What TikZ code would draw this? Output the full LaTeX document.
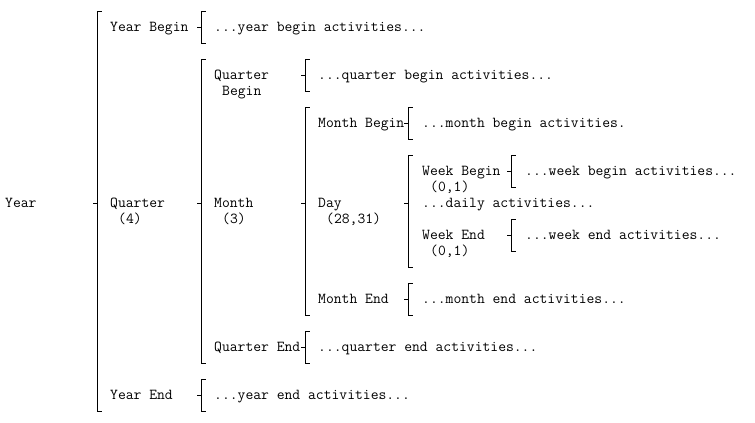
\documentclass[tikz,border=0pt]{standalone}
\usepackage{fontspec}
\usetikzlibrary{positioning}

\tikzset{
  lbl/.style={anchor=base west, inner sep=0pt, font=\ttfamily\fontsize{15.2bp}{16bp}\selectfont},
  brk/.style={line width=1bp, line cap=rect}
}
% bracket: x, top, bottom, level of the parent
\newcommand{\wobrk}[4]{%
  \draw[brk] (#1+4,#2) -- (#1,#2) -- (#1,#3) -- (#1+4,#3);
  \draw[brk] (#1-4,#4) -- (#1,#4);
}

\begin{document}
\begin{tikzpicture}[x=1bp, y=-1bp]
  \useasboundingbox (0,0) rectangle (755,422);

  % labels (base line = level + 4.5)
  \node[lbl] (year) at (5,207.5) {Year};
  \node[lbl] (yb) at (110,31.5) {Year Begin};
  \node[lbl] (qtr) at (110,207.5) {Quarter};
  \node[lbl] (qtrn) at (118,223.5) {(4)};
  \node[lbl] (ye) at (110,399.5) {Year End};
  \node[lbl] (yba) at (214,31.5) {...year begin activities...};
  \node[lbl] (qb) at (214,79.5) {Quarter};
  \node[lbl] (qbb) at (222,95.5) {Begin};
  \node[lbl] (mon) at (214,207.5) {Month};
  \node[lbl] (monn) at (222,223.5) {(3)};
  \node[lbl] (qe) at (214,351.5) {Quarter End};
  \node[lbl] (yea) at (214,399.5) {...year end activities...};
  \node[lbl] (qba) at (318,79.5) {...quarter begin activities...};
  \node[lbl] (mb) at (318,127.5) {Month Begin};
  \node[lbl] (day) at (318,207.5) {Day};
  \node[lbl] (dayn) at (326,223.5) {(28,31)};
  \node[lbl] (me) at (318,303.5) {Month End};
  \node[lbl] (qea) at (318,351.5) {...quarter end activities...};
  \node[lbl] (mba) at (422,127.5) {...month begin activities.};
  \node[lbl] (wb) at (422,175.5) {Week Begin};
  \node[lbl] (wbn) at (430,191.5) {(0,1)};
  \node[lbl] (da) at (422,207.5) {...daily activities...};
  \node[lbl] (we) at (422,239.5) {Week End};
  \node[lbl] (wen) at (430,255.5) {(0,1)};
  \node[lbl] (mea) at (422,303.5) {...month end activities...};
  \node[lbl] (wba) at (525,175.5) {...week begin activities...};
  \node[lbl] (wea) at (525,239.5) {...week end activities...};

  % brackets
  \wobrk{97}{11}{411}{203}
  \wobrk{201}{11}{43}{27}
  \wobrk{201}{59}{363}{203}
  \wobrk{201}{379}{411}{395}
  \wobrk{305}{59}{91}{75}
  \wobrk{305}{107}{315}{203}
  \wobrk{305}{331}{363}{347}
  \wobrk{408}{107}{139}{123}
  \wobrk{408}{155}{267}{203}
  \wobrk{408}{283}{315}{299}
  \wobrk{511}{155}{187}{171}
  \wobrk{511}{219}{251}{235}
\end{tikzpicture}
\end{document}
